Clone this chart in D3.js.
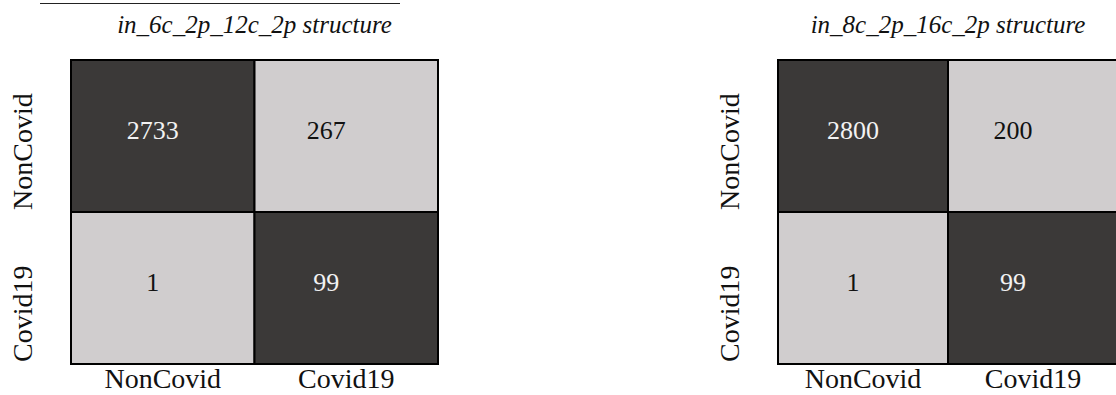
<!DOCTYPE html>
<html>
<head>
<meta charset="utf-8">
<script src="https://cdn.jsdelivr.net/npm/d3@7"></script>
<style>
  html, body { margin: 0; padding: 0; background: #fff; }
  svg { display: block; }
</style>
</head>
<body>
<svg id="chart" width="1116" height="395"></svg>
<script>
// Class labels shared by both confusion matrices (rows = actual, columns = predicted)
const classes = ["NonCovid", "Covid19"];

// Panel titles
const titles = ["in_6c_2p_12c_2p structure", "in_8c_2p_16c_2p structure"];

// Confusion-matrix counts, one per network structure
const countsA = [[2733, 267], [1, 99]];
const countsB = [[2800, 200], [1, 99]];

const panels = [
  { title: titles[0], counts: countsA, x0: 71, x1: 438 },
  { title: titles[1], counts: countsB, x0: 778, x1: 1118 }
];

const svg = d3.select("#chart");
const font = "'Liberation Serif', 'Times New Roman', serif";
const gridTop = 60, gridBottom = 364;

// Fill: correct predictions (diagonal) dark, misclassifications light
const fill = d3.scaleOrdinal().domain([true, false]).range(["#3b3938", "#d0cdce"]);
const ink = d3.scaleOrdinal().domain([true, false]).range(["#f2f2f2", "#111111"]);

// Hyperlink underline running along the top edge
svg.append("line")
  .attr("x1", 40).attr("x2", 400)
  .attr("y1", 3.5).attr("y2", 3.5)
  .attr("stroke", "#222").attr("stroke-width", 1);

panels.forEach(p => {
  const g = svg.append("g");
  const x = d3.scaleBand().domain(classes).range([p.x0, p.x1]);
  const y = d3.scaleBand().domain(classes).range([gridTop, gridBottom]);

  const cells = [];
  classes.forEach((r, i) => classes.forEach((c, j) => {
    cells.push({ row: r, col: c, j, diag: i === j, value: p.counts[i][j] });
  }));

  g.selectAll("rect.cell").data(cells).join("rect")
    .attr("class", "cell")
    .attr("x", d => x(d.col))
    .attr("y", d => y(d.row))
    .attr("width", x.bandwidth())
    .attr("height", y.bandwidth())
    .attr("fill", d => fill(d.diag))
    .attr("stroke", "#000")
    .attr("stroke-width", 2);

  // Counts, nudged slightly left of cell centre
  g.selectAll("text.count").data(cells).join("text")
    .attr("class", "count")
    .attr("x", d => x(d.col) + x.bandwidth() / 2 - (d.j === 0 ? 10 : 20))
    .attr("y", d => y(d.row) + y.bandwidth() / 2 + 3)
    .attr("text-anchor", "middle")
    .attr("font-family", font)
    .attr("font-size", 26)
    .attr("fill", d => ink(d.diag))
    .text(d => d.value);

  // Title
  g.append("text")
    .attr("x", (p.x0 + p.x1) / 2)
    .attr("y", 33)
    .attr("text-anchor", "middle")
    .attr("font-family", font)
    .attr("font-style", "italic")
    .attr("font-size", 25)
    .attr("fill", "#111")
    .text(p.title);

  // Column (predicted) labels
  g.selectAll("text.xlab").data(classes).join("text")
    .attr("class", "xlab")
    .attr("x", d => x(d) + x.bandwidth() / 2)
    .attr("y", 388)
    .attr("text-anchor", "middle")
    .attr("font-family", font)
    .attr("font-size", 28)
    .attr("fill", "#111")
    .text(d => d);

  // Row (actual) labels, rotated, starting at each row's bottom edge
  g.selectAll("text.ylab").data(classes).join("text")
    .attr("class", "ylab")
    .attr("transform", d => `translate(${p.x0 - 39},${y(d) + y.bandwidth() - 2}) rotate(-90)`)
    .attr("text-anchor", "start")
    .attr("font-family", font)
    .attr("font-size", 28)
    .attr("fill", "#111")
    .text(d => d);
});
</script>
</body>
</html>
